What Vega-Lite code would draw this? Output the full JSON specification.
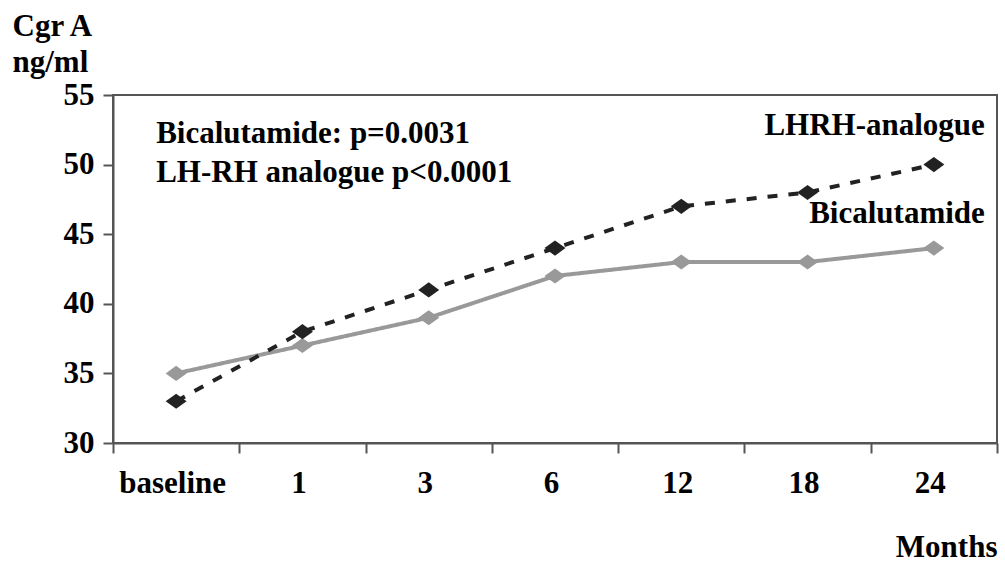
{
  "$schema": "https://vega.github.io/schema/vega-lite/v6.json",
  "width": 884,
  "height": 348,
  "autosize": "none",
  "padding": {"left": 113, "top": 95, "right": 8, "bottom": 121},
  "background": "white",
  "config": {
    "font": "Liberation Serif",
    "view": {"stroke": "#555555", "strokeWidth": 2}
  },
  "data": {
    "values": [
      {"month": "baseline", "series": "Bicalutamide", "value": 35},
      {"month": "1", "series": "Bicalutamide", "value": 37},
      {"month": "3", "series": "Bicalutamide", "value": 39},
      {"month": "6", "series": "Bicalutamide", "value": 42},
      {"month": "12", "series": "Bicalutamide", "value": 43},
      {"month": "18", "series": "Bicalutamide", "value": 43},
      {"month": "24", "series": "Bicalutamide", "value": 44},
      {"month": "baseline", "series": "LHRH-analogue", "value": 33},
      {"month": "1", "series": "LHRH-analogue", "value": 38},
      {"month": "3", "series": "LHRH-analogue", "value": 41},
      {"month": "6", "series": "LHRH-analogue", "value": 44},
      {"month": "12", "series": "LHRH-analogue", "value": 47},
      {"month": "18", "series": "LHRH-analogue", "value": 48},
      {"month": "24", "series": "LHRH-analogue", "value": 50}
    ]
  },
  "encoding": {
    "x": {
      "field": "month",
      "type": "ordinal",
      "sort": null,
      "scale": {"type": "band", "domain": ["baseline", "1", "3", "6", "12", "18", "24"], "paddingInner": 0, "paddingOuter": 0},
      "axis": {
        "title": "Months",
        "titleFontSize": 31,
        "titleFontWeight": "bold",
        "titleColor": "black",
        "titleAnchor": "end",
        "titleAlign": "right",
        "titleBaseline": "alphabetic",
        "titleX": 884,
        "titleY": 113,
        "labelAngle": 0,
        "labelFontSize": 31,
        "labelFontWeight": "bold",
        "labelColor": "black",
        "labelPadding": 15,
        "labelOffset": -4,
        "tickBand": "extent",
        "tickSize": 10,
        "tickWidth": 2,
        "tickColor": "#555555",
        "domainColor": "#555555",
        "domainWidth": 2,
        "grid": false
      }
    },
    "y": {
      "field": "value",
      "type": "quantitative",
      "scale": {"domain": [30, 55], "nice": false, "zero": false},
      "axis": {
        "values": [30, 35, 40, 45, 50, 55],
        "title": ["Cgr A", "ng/ml"],
        "titleAngle": 0,
        "titleAlign": "left",
        "titleBaseline": "alphabetic",
        "titleX": -101,
        "titleY": -60,
        "titleFontSize": 31,
        "titleLineHeight": 36,
        "titleFontWeight": "bold",
        "titleColor": "black",
        "labelFontSize": 31,
        "labelFontWeight": "bold",
        "labelColor": "black",
        "labelPadding": 9,
        "tickSize": 10,
        "tickWidth": 2,
        "tickColor": "#555555",
        "domainColor": "#555555",
        "domainWidth": 2,
        "grid": false
      }
    }
  },
  "layer": [
    {
      "mark": {"type": "line", "strokeWidth": 4},
      "encoding": {
        "color": {"field": "series", "type": "nominal", "scale": {"domain": ["Bicalutamide", "LHRH-analogue"], "range": ["#999999", "#222222"]}, "legend": null},
        "strokeDash": {"field": "series", "type": "nominal", "scale": {"domain": ["Bicalutamide", "LHRH-analogue"], "range": [[1, 0], [10, 11]]}, "legend": null}
      }
    },
    {
      "mark": {"type": "point", "filled": true, "opacity": 1, "shape": "M-1,0L0,-0.72L1,0L0,0.72Z", "size": 440},
      "encoding": {
        "color": {"field": "series", "type": "nominal", "scale": {"domain": ["Bicalutamide", "LHRH-analogue"], "range": ["#999999", "#222222"]}, "legend": null}
      }
    },
    {
      "transform": [{"filter": "datum.month == 'baseline' && datum.series == 'Bicalutamide'"}],
      "mark": {"type": "text", "align": "left", "baseline": "alphabetic", "fontSize": 31, "fontWeight": "bold", "lineHeight": 39, "dx": -20, "color": "black"},
      "encoding": {
        "x": {"datum": "baseline"},
        "y": {"datum": 51.55},
        "text": {"value": ["Bicalutamide: p=0.0031", "LH-RH analogue p<0.0001"]}
      }
    },
    {
      "transform": [{"filter": "datum.month == '24' && datum.series == 'LHRH-analogue'"}],
      "mark": {"type": "text", "align": "right", "baseline": "alphabetic", "fontSize": 31, "fontWeight": "bold", "dx": 51, "color": "black"},
      "encoding": {
        "x": {"datum": "24"},
        "y": {"datum": 52.1},
        "text": {"field": "series"}
      }
    },
    {
      "transform": [{"filter": "datum.month == '24' && datum.series == 'Bicalutamide'"}],
      "mark": {"type": "text", "align": "right", "baseline": "alphabetic", "fontSize": 31, "fontWeight": "bold", "dx": 51, "color": "black"},
      "encoding": {
        "x": {"datum": "24"},
        "y": {"datum": 45.8},
        "text": {"field": "series"}
      }
    }
  ]
}
